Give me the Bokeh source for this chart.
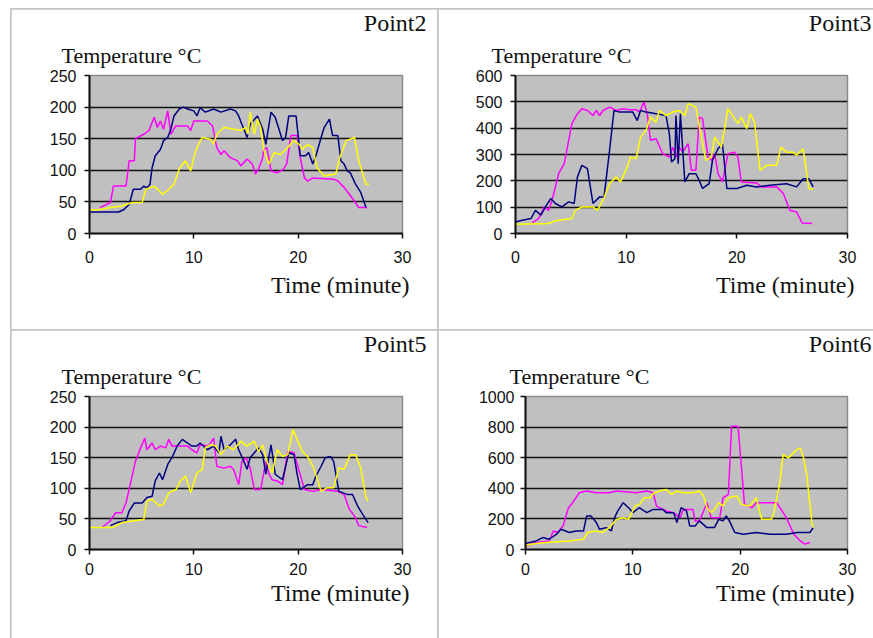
from bokeh.plotting import figure
from bokeh.models import Title, Spacer, FixedTicker, Range1d
from bokeh.layouts import row, column
from bokeh.embed import file_html
from bokeh.resources import INLINE

# ---------------- data (time in minutes, temperature in deg C) ----------------
P2_MAGENTA = [(1.0,41),(2.0,49),(2.3,75),(3.5,75),(3.8,115),(4.3,115),(4.4,150),(5.2,157),(5.7,163),(6.2,184),
              (6.5,168),(6.8,178),(7.1,165),(7.5,194),(7.8,157),(8.25,170),(9.4,170),(9.7,163),(10.0,178),(11.3,178),
              (11.8,170),(12.2,136),(12.6,125),(12.9,131),(13.5,120),(14.2,115),(14.5,107),(15.1,118),(15.6,110),(15.9,94),
              (16.2,102),(16.6,120),(16.7,133),(17.0,136),(17.4,99),(18.0,96),(18.6,102),(18.9,110),(19.3,155),(19.9,155),
              (20.2,120),(20.6,88),(20.9,83),(21.4,88),(23.4,86),(23.8,83),(24.4,73),(24.9,62),(25.4,51),(25.8,41),(26.6,41)]
P2_NAVY = [(0,34),(2.8,34),(3.3,38),(3.8,46),(4.2,70),(4.9,70),(5.2,75),(5.5,72),(5.8,78),(6.0,104),(6.3,123),(6.8,133),
           (7.1,147),(7.5,152),(7.8,165),(8.1,186),(8.6,197),(9.0,200),(9.4,197),(10.0,194),(10.3,186),(10.6,199),(11.1,192),
           (11.9,197),(12.6,192),(13.5,197),(14.0,194),(14.3,186),(14.6,173),(14.85,163),(15.1,152),(15.4,173),(16.1,186),
           (16.6,165),(16.9,141),(17.4,192),(17.8,184),(18.5,147),(18.8,152),(19.1,186),(19.8,186),(20.2,123),(20.7,123),
           (21.0,128),(21.4,110),(21.7,123),(22.2,152),(22.5,168),(23.0,181),(23.3,155),(23.8,155),(24.1,115),(24.4,110),
           (24.7,99),(25.0,96),(25.5,78),(26.0,65),(26.5,41)]
P2_YELLOW = [(0,37),(1.1,38),(2.0,41),(3.0,43),(4.1,49),(5.05,49),(5.4,70),(6.2,75),(7.0,62),(7.6,70),(8.1,78),(8.6,102),
             (9.2,115),(9.7,99),(10.0,120),(10.3,136),(10.8,152),(11.6,149),(11.9,141),(12.2,157),(12.9,168),(13.8,165),
             (14.5,163),(15.0,168),(15.2,157),(15.4,192),(15.8,157),(16.1,181),(16.4,168),(16.7,133),(17.2,110),(17.7,128),
             (18.3,125),(19.0,136),(19.6,147),(20.1,141),(20.4,133),(20.9,141),(21.4,136),(21.8,104),(22.5,91),(23.6,94),
             (23.9,115),(24.1,125),(24.6,147),(25.4,152),(25.8,115),(26.5,78),(26.8,78)]

P3_MAGENTA = [(1.5,40),(2.1,57),(2.6,101),(3.0,88),(3.3,126),(3.9,227),(4.4,265),(5.1,417),(5.6,455),(6.0,474),(6.5,467),
              (7.0,448),(7.3,467),(7.6,448),(7.9,467),(8.5,480),(9.1,467),(9.7,474),(10.3,470),(10.9,470),(11.2,461),(11.6,499),
              (11.9,455),(12.2,354),(12.7,360),(13.3,303),(13.9,290),(14.2,328),(14.5,290),(14.8,328),(15.1,309),(15.6,341),
              (15.9,240),(16.3,240),(16.6,442),(16.9,436),(17.4,290),(17.7,278),(18.0,303),(18.3,227),(18.7,196),(19.2,303),
              (19.8,309),(20.1,290),(20.4,196),(21.8,192),(22.2,177),(23.6,177),(24.2,152),(24.8,88),(25.4,82),(25.9,40),(26.8,38)]
P3_NAVY = [(0,44),(0.6,50),(1.4,57),(1.8,88),(2.3,70),(2.7,101),(3.2,133),(3.6,114),(4.2,101),(4.8,120),(5.3,114),(5.6,215),
           (6.0,259),(6.5,246),(7.0,114),(7.6,139),(8.0,139),(8.5,316),(8.9,467),(9.4,461),(10.6,461),(11.0,429),(11.3,467),
           (11.8,461),(13.6,448),(13.9,379),(14.1,272),(14.4,284),(14.5,448),(14.7,265),(14.9,455),(15.3,196),(15.7,227),
           (16.3,227),(16.6,202),(16.9,171),(17.5,189),(17.8,278),(18.3,322),(18.7,341),(19.1,171),(20.0,171),(20.9,183),
           (21.8,177),(23.0,183),(24.5,189),(25.4,177),(26.0,208),(26.5,208),(26.9,177)]
P3_YELLOW = [(0,35),(3.0,38),(3.6,48),(5.1,57),(5.4,88),(6.0,101),(7.0,101),(7.4,88),(7.9,126),(8.5,189),(9.1,215),(9.5,196),
             (10.1,253),(10.4,290),(10.9,284),(11.3,366),(11.8,392),(12.2,442),(12.7,423),(13.0,467),(13.6,448),(14.2,461),
             (14.8,467),(15.3,448),(15.6,493),(16.3,480),(16.6,410),(17.2,278),(17.7,290),(18.0,366),(18.6,328),(19.2,474),
             (19.8,436),(20.1,417),(20.4,442),(20.9,398),(21.2,455),(21.6,423),(22.1,240),(22.7,259),(23.6,259),(24.0,328),
             (24.5,309),(25.1,309),(25.4,297),(26.0,322),(26.5,171),(26.9,167)]

P5_MAGENTA = [(1.2,36),(2.0,47),(2.5,60),(3.1,60),(3.5,76),(3.9,106),(4.4,144),(4.9,166),(5.3,182),(5.5,163),(6.0,174),
              (6.3,163),(6.8,169),(7.3,166),(7.6,180),(7.9,169),(9.4,169),(9.8,163),(10.3,158),(10.6,171),(11.4,169),(11.9,182),
              (12.2,136),(12.9,133),(13.5,136),(13.8,131),(14.3,106),(14.6,144),(15.0,150),(15.4,133),(15.8,98),(16.4,98),
              (16.9,144),(17.2,123),(17.5,114),(18.0,112),(18.5,106),(19.0,160),(19.6,158),(20.1,128),(20.6,98),(21.4,95),
              (22.2,98),(23.8,95),(24.4,90),(24.9,66),(25.5,52),(25.8,39),(26.6,36)]
P5_NAVY = [(2.0,39),(2.65,44),(3.5,47),(3.8,63),(4.3,76),(5.05,76),(5.5,85),(6.0,87),(6.3,112),(6.7,125),(7.0,114),(7.5,139),
           (7.9,150),(8.4,169),(8.9,180),(9.4,174),(9.8,169),(10.3,169),(10.6,174),(11.3,163),(11.9,169),(12.4,158),(12.6,185),
           (12.9,163),(13.5,171),(14.0,180),(14.3,163),(14.8,144),(15.1,131),(15.4,150),(15.8,158),(16.2,166),(16.6,155),
           (16.9,123),(17.4,171),(17.8,123),(18.5,114),(19.1,158),(19.6,155),(19.9,123),(20.2,98),(20.9,106),(21.4,106),
           (21.7,120),(22.2,136),(22.6,150),(23.1,152),(23.4,144),(23.9,95),(24.7,90),(25.2,90),(25.7,71),(26.2,57),(26.7,44)]
P5_YELLOW = [(0,36),(2.2,36),(3.1,44),(4.3,47),(5.2,49),(5.5,79),(6.0,82),(6.7,71),(7.1,74),(7.6,93),(8.3,98),(8.7,112),
             (9.2,120),(9.7,93),(10.3,125),(10.8,131),(11.1,166),(11.6,171),(12.1,169),(12.6,155),(13.2,169),(13.8,163),
             (14.5,177),(15.1,169),(15.8,177),(16.2,160),(16.6,171),(17.0,144),(17.5,125),(18.0,163),(18.5,152),(19.0,155),
             (19.5,196),(19.9,180),(20.4,160),(20.9,152),(21.5,133),(22.2,95),(22.8,101),(23.4,101),(23.9,133),(24.4,131),
             (25.0,155),(25.5,155),(26.0,133),(26.5,85),(26.7,79)]

P6_MAGENTA = [(0,24),(1.0,46),(2.2,56),(2.6,121),(3.0,111),(3.5,154),(4.0,273),(4.4,306),(5.0,371),(5.7,382),(6.6,371),
              (7.8,371),(8.5,382),(10.3,371),(11.3,382),(11.9,371),(12.2,284),(13.1,252),(13.8,241),(14.4,208),(14.7,262),
              (15.6,262),(15.8,187),(16.2,187),(16.6,252),(16.9,306),(17.3,208),(18.1,208),(18.4,338),(18.9,360),(19.2,805),
              (19.8,805),(20.1,555),(20.4,295),(21.1,273),(21.5,306),(22.5,306),(23.4,306),(23.9,252),(24.3,208),(25.0,100),
              (25.6,56),(26.0,35),(26.5,46)]
P6_NAVY = [(0,39),(1.0,56),(1.6,78),(2.2,67),(2.9,100),(3.3,132),(4.1,111),(4.7,121),(5.4,121),(5.7,219),(6.1,219),(6.6,176),
           (6.9,132),(7.5,143),(8.0,121),(8.3,208),(8.6,252),(9.1,306),(9.6,273),(10.0,241),(10.6,273),(11.3,241),(11.9,262),
           (12.8,262),(13.1,241),(13.8,241),(14.1,176),(14.5,273),(15.0,252),(15.3,154),(15.8,154),(16.2,187),(16.9,143),
           (17.6,143),(18.0,197),(18.4,187),(18.7,219),(19.0,187),(19.5,111),(20.3,100),(21.5,111),(22.8,100),(24.3,100),
           (25.3,111),(26.5,111),(26.8,143)]
P6_YELLOW = [(0,30),(1.0,39),(1.9,46),(4.1,56),(5.4,67),(5.8,111),(6.6,121),(7.2,111),(7.8,143),(8.5,197),(9.1,208),(9.6,197),
             (10.2,284),(10.6,295),(11.1,338),(11.6,338),(12.0,371),(12.5,382),(13.1,393),(13.6,360),(14.1,382),(14.7,371),
             (15.6,371),(16.2,382),(16.6,349),(16.9,273),(17.3,241),(17.6,262),(18.0,306),(18.4,284),(18.9,338),(19.7,349),
             (20.1,295),(20.9,284),(21.5,338),(22.0,197),(22.9,197),(23.1,230),(23.7,436),(24.0,620),(24.5,599),(24.8,620),
             (25.3,653),(25.6,664),(25.9,599),(26.2,490),(26.7,165),(26.8,143)]

X_TICKS = [0, 10, 20, 30]
Y_TICKS_2 = [0, 50, 100, 150, 200, 250]
Y_TICKS_3 = [0, 100, 200, 300, 400, 500, 600]
Y_TICKS_5 = [0, 50, 100, 150, 200, 250]
Y_TICKS_6 = [0, 200, 400, 600, 800, 1000]

TITLES = ["Point2", "Point3", "Point5", "Point6"]
Y_TITLE = "Temperature \u00b0C"
X_TITLE = "Time (minute)"

# ---------------- styling ----------------
GRAY_LINE = "#c4c4c4"
PLOT_BG = "#c0c0c0"
COLORS = {"magenta": "#ff00ff", "navy": "#000080", "yellow": "#ffff00"}
SERIF = "Liberation Serif"
SANS = "Liberation Sans"


def make_panel(width, height, bl, br, bt, bb, yticks, series, title, off_title, off_ytitle, ystand,
               xstand, time_standoff):
    p = figure(width=width, height=height, x_range=Range1d(0, 30), y_range=Range1d(0, yticks[-1]),
               toolbar_location=None, output_backend="svg",
               min_border_left=bl, min_border_right=br, min_border_top=bt, min_border_bottom=bb)
    p.background_fill_color = PLOT_BG
    p.border_fill_color = "white"
    p.outline_line_color = "#8a8a8a"
    p.outline_line_width = 1.5

    for ax in (p.xaxis[0], p.yaxis[0]):
        ax.axis_line_color = "#101010"
        ax.axis_line_width = 2
        ax.major_tick_line_color = "#101010"
        ax.major_tick_line_width = 1.5
        ax.major_tick_out = 5
        ax.major_tick_in = 0
        ax.minor_tick_out = 0
        ax.minor_tick_in = 0
        ax.major_label_text_font = SANS
        ax.major_label_text_font_size = "16px"
        ax.major_label_text_color = "#111111"
    p.xaxis.ticker = FixedTicker(ticks=X_TICKS)
    p.yaxis.ticker = FixedTicker(ticks=yticks)
    p.yaxis.major_label_standoff = ystand
    p.xaxis.major_label_standoff = xstand

    p.xgrid.visible = False
    p.ygrid.ticker = FixedTicker(ticks=yticks[1:-1])
    p.ygrid.grid_line_color = "#111111"
    p.ygrid.grid_line_width = 1.6

    for name, pts in series:
        p.line([a for a, b in pts], [b for a, b in pts], line_color=COLORS[name], line_width=1.5)

    common = dict(text_font=SERIF, text_font_style="normal", text_color="#111111")
    p.add_layout(Title(text=Y_TITLE, align="left", offset=off_ytitle, standoff=11, vertical_align="top",
                       text_font_size="22px", **common), "above")
    p.add_layout(Title(text=title, align="right", offset=off_title, standoff=0, vertical_align="top",
                       text_font_size="24px", **common), "above")
    p.add_layout(Title(text=X_TITLE, align="right", offset=-7, standoff=time_standoff,
                       text_font_size="24px", **common), "below")
    return p


p1 = make_panel(426, 320, 78, 35, 66, 96, Y_TICKS_2,
                [("magenta", P2_MAGENTA), ("navy", P2_NAVY), ("yellow", P2_YELLOW)],
                TITLES[0], -24, -28, 8, 12, 8)
p2 = make_panel(435, 320, 77, 26, 66, 96, Y_TICKS_3,
                [("magenta", P3_MAGENTA), ("navy", P3_NAVY), ("yellow", P3_YELLOW)],
                TITLES[1], -24, -24, 8, 12, 8)
p3 = make_panel(426, 308, 78, 35, 65, 89, Y_TICKS_5,
                [("magenta", P5_MAGENTA), ("navy", P5_NAVY), ("yellow", P5_YELLOW)],
                TITLES[2], -24, -28, 8, 8, 0)
p4 = make_panel(435, 308, 87, 26, 65, 89, Y_TICKS_6,
                [("magenta", P6_MAGENTA), ("navy", P6_NAVY), ("yellow", P6_YELLOW)],
                TITLES[3], -24, -16, 6, 8, 0)

top = row(Spacer(width=0, height=320), p1, p2, spacing=1)
bottom = row(Spacer(width=0, height=308), p3, p4, spacing=1)
layout = column(Spacer(width=862, height=0), top, bottom, spacing=1,
                styles={"background-color": GRAY_LINE}, margin=(8, 0, 0, 10))

open("out.html", "w").write(file_html(layout, INLINE))
